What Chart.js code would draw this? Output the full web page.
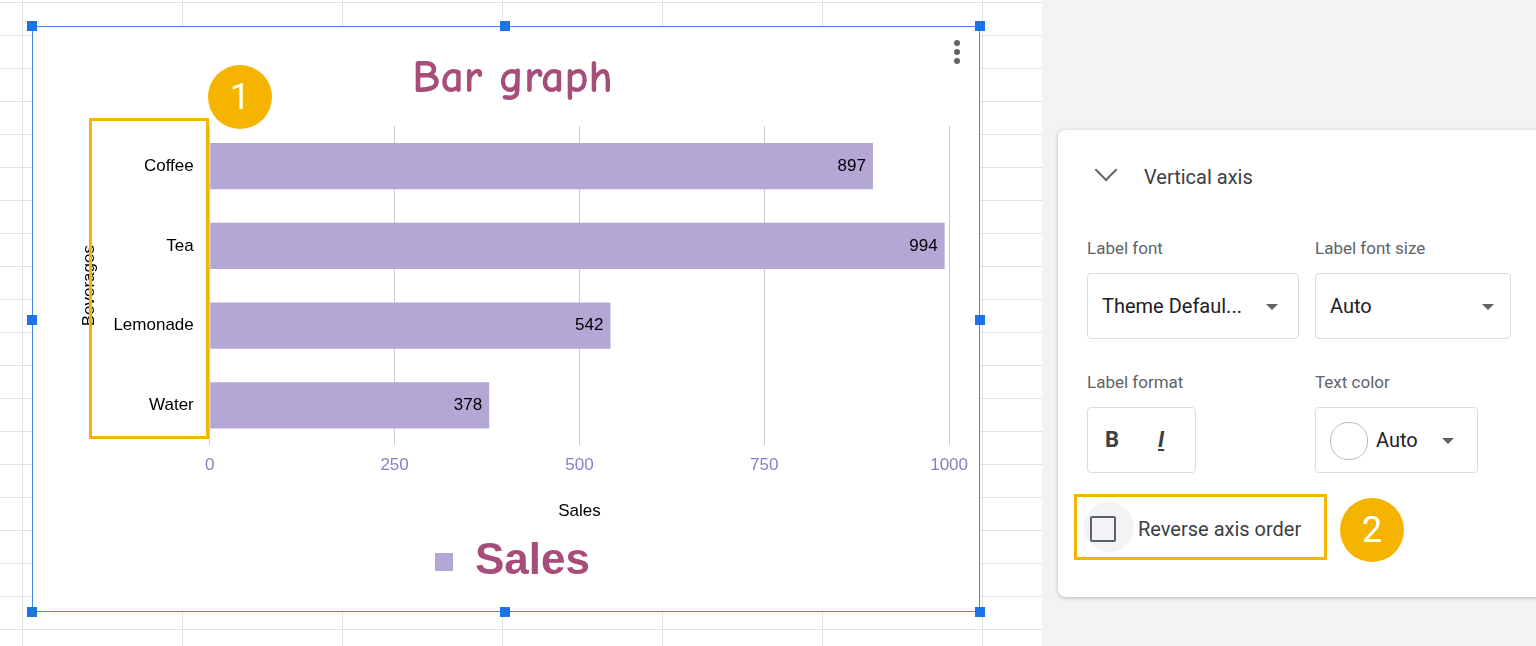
<!DOCTYPE html>
<html><head><meta charset="utf-8">
<script src="https://cdn.jsdelivr.net/npm/chart.js@4"></script>
<style>
body{margin:0;width:1536px;height:646px;overflow:hidden;font-family:Roboto,Arial,sans-serif;position:relative;
background-color:#fff;background-image:linear-gradient(#e2e2e2 1px,transparent 1px),linear-gradient(90deg,#e2e2e2 1px,transparent 1px);background-size:160px 33px;background-position:22px 2px}
#rightbg{position:absolute;left:1042px;top:0;width:494px;height:646px;background:#f1f3f4}
#box{position:absolute;left:32px;top:26px;width:948px;height:586px;background:#fff;border:1.5px solid #4285f4;box-sizing:border-box}
.h{position:absolute;width:10px;height:10px;background:#1a73e8;}
#card{position:absolute;left:1058px;top:130px;width:490px;height:467px;background:#fff;border-radius:8px;box-shadow:0 1px 4px rgba(0,0,0,.25)}
.t{position:absolute;color:#3c4043}
.sel{position:absolute;border:1px solid #dadce0;border-radius:4px;box-sizing:border-box;background:#fff}
.tri{position:absolute;width:0;height:0;border-left:6px solid transparent;border-right:6px solid transparent;border-top:6px solid #5f6368}
</style></head><body>
<div id="rightbg"></div>
<div id="box"><canvas id="c" width="945" height="583"></canvas></div>
<div class="h" style="left:27px;top:21px"></div><div class="h" style="left:500px;top:21px"></div><div class="h" style="left:975px;top:21px"></div>
<div class="h" style="left:27px;top:315px"></div><div class="h" style="left:975px;top:315px"></div>
<div class="h" style="left:27px;top:607px"></div><div class="h" style="left:500px;top:607px"></div><div class="h" style="left:975px;top:607px"></div>
<div style="position:absolute;left:954px;top:40px;width:6px">
<div style="width:6px;height:6px;border-radius:3px;background:#5f6368;margin-bottom:3px"></div><div style="width:6px;height:6px;border-radius:3px;background:#5f6368;margin-bottom:3px"></div><div style="width:6px;height:6px;border-radius:3px;background:#5f6368"></div></div>
<div style="position:absolute;left:89px;top:118px;width:120px;height:321px;border:3px solid #f4b400;box-sizing:border-box"></div>
<div style="position:absolute;left:208px;top:65px;width:64px;height:64px;border-radius:32px;background:#f4b400;color:#fff;font-size:36px;text-align:center;line-height:64px">1</div>
<div id="card">
<div class="t" style="width:14px;height:14px;border-right:2px solid #5f6368;border-bottom:2px solid #5f6368;transform:rotate(45deg);left:40px;top:32px"></div>
<div class="t" style="left:86px;top:35px;font-size:20px">Vertical axis</div>
<div class="t" style="left:29px;top:108px;font-size:17px;color:#5f6368">Label font</div>
<div class="t" style="left:257px;top:108px;font-size:17px;color:#5f6368">Label font size</div>
<div class="sel" style="left:29px;top:143px;width:212px;height:66px"><span class="t" style="left:14px;top:20px;font-size:20px;color:#202124">Theme Defaul...</span><div class="tri" style="left:178px;top:30px"></div></div>
<div class="sel" style="left:257px;top:143px;width:196px;height:66px"><span class="t" style="left:14px;top:20px;font-size:20px;color:#202124">Auto</span><div class="tri" style="left:166px;top:30px"></div></div>
<div class="t" style="left:29px;top:242px;font-size:17px;color:#5f6368">Label format</div>
<div class="t" style="left:257px;top:242px;font-size:17px;color:#5f6368">Text color</div>
<div class="sel" style="left:29px;top:277px;width:109px;height:66px"><span class="t" style="left:17px;top:19px;font-size:22px;font-weight:bold">B</span><span class="t" style="left:70px;top:19px;font-size:22px;font-style:italic;font-weight:bold;text-decoration:underline">I</span></div>
<div class="sel" style="left:257px;top:277px;width:163px;height:66px"><div style="position:absolute;left:14px;top:14px;width:36px;height:36px;border-radius:18px;border:1px solid #bbb"></div><span class="t" style="left:60px;top:20px;font-size:20px;color:#202124">Auto</span><div class="tri" style="left:126px;top:30px"></div></div>
<div style="position:absolute;left:16px;top:364px;width:253px;height:66px;border:3px solid #f4b400;box-sizing:border-box"></div>
<div style="position:absolute;left:26px;top:372px;width:50px;height:50px;border-radius:25px;background:#f1f3f4"></div>
<div style="position:absolute;left:32px;top:386px;width:26px;height:26px;border:2px solid #5f6368;border-radius:2px;box-sizing:border-box"></div>
<div class="t" style="left:80px;top:387px;font-size:20px">Reverse axis order</div>
<div style="position:absolute;left:282px;top:368px;width:64px;height:64px;border-radius:32px;background:#f4b400;color:#fff;font-size:36px;text-align:center;line-height:64px">2</div>
</div>
<script>
const categories=["Coffee","Tea","Lemonade","Water"];
const sales=[897,994,542,378];
const xTicks=[0,250,500,750,1000];
const valueLabels={id:'vl',afterDatasetsDraw(ch){const ctx=ch.ctx;const m=ch.getDatasetMeta(0);ctx.save();ctx.font='17px Arial, "Liberation Sans"';ctx.fillStyle='#000';ctx.textAlign='right';ctx.textBaseline='middle';
m.data.forEach((b,i)=>{ctx.fillText(String(sales[i]),b.x-7,b.y);});ctx.restore();}};
new Chart(document.getElementById('c'),{type:'bar',data:{labels:categories,datasets:[{label:'Sales',data:sales,backgroundColor:'#b4a7d6',barPercentage:0.58,categoryPercentage:1}]},
options:{indexAxis:'y',responsive:false,animation:false,layout:{padding:{left:42,right:28,top:0,bottom:16}},
plugins:{title:{display:true,text:'Bar graph',color:'#a64d79',font:{family:'"Comic Neue","DejaVu Sans"',size:46,weight:'bold'},padding:{top:24,bottom:20}},
legend:{position:'bottom',labels:{color:'#a64d79',font:{family:'Arial,"Liberation Sans"',size:44,weight:'bold'},boxWidth:18,boxHeight:18,padding:6}},tooltip:{enabled:false}},
scales:{x:{min:0,max:1000,afterBuildTicks(s){s.ticks=xTicks.map(v=>({value:v}));},grid:{color:'#cccccc',drawTicks:false},border:{display:false},
ticks:{color:'#8e7cc3',font:{size:17,family:'Arial,"Liberation Sans"'},padding:10,callback:v=>String(v)},title:{display:true,text:'Sales',color:'#000',font:{size:17,family:'Arial,"Liberation Sans"'},padding:{top:16,bottom:12}}},
y:{grid:{display:false},border:{display:false},ticks:{color:'#000',font:{size:17,family:'Arial,"Liberation Sans"'},padding:8},
title:{display:true,text:'Beverages',color:'#000',font:{size:17,family:'Arial,"Liberation Sans"'},padding:{bottom:6}}}}},plugins:[valueLabels]});
</script></body></html>
